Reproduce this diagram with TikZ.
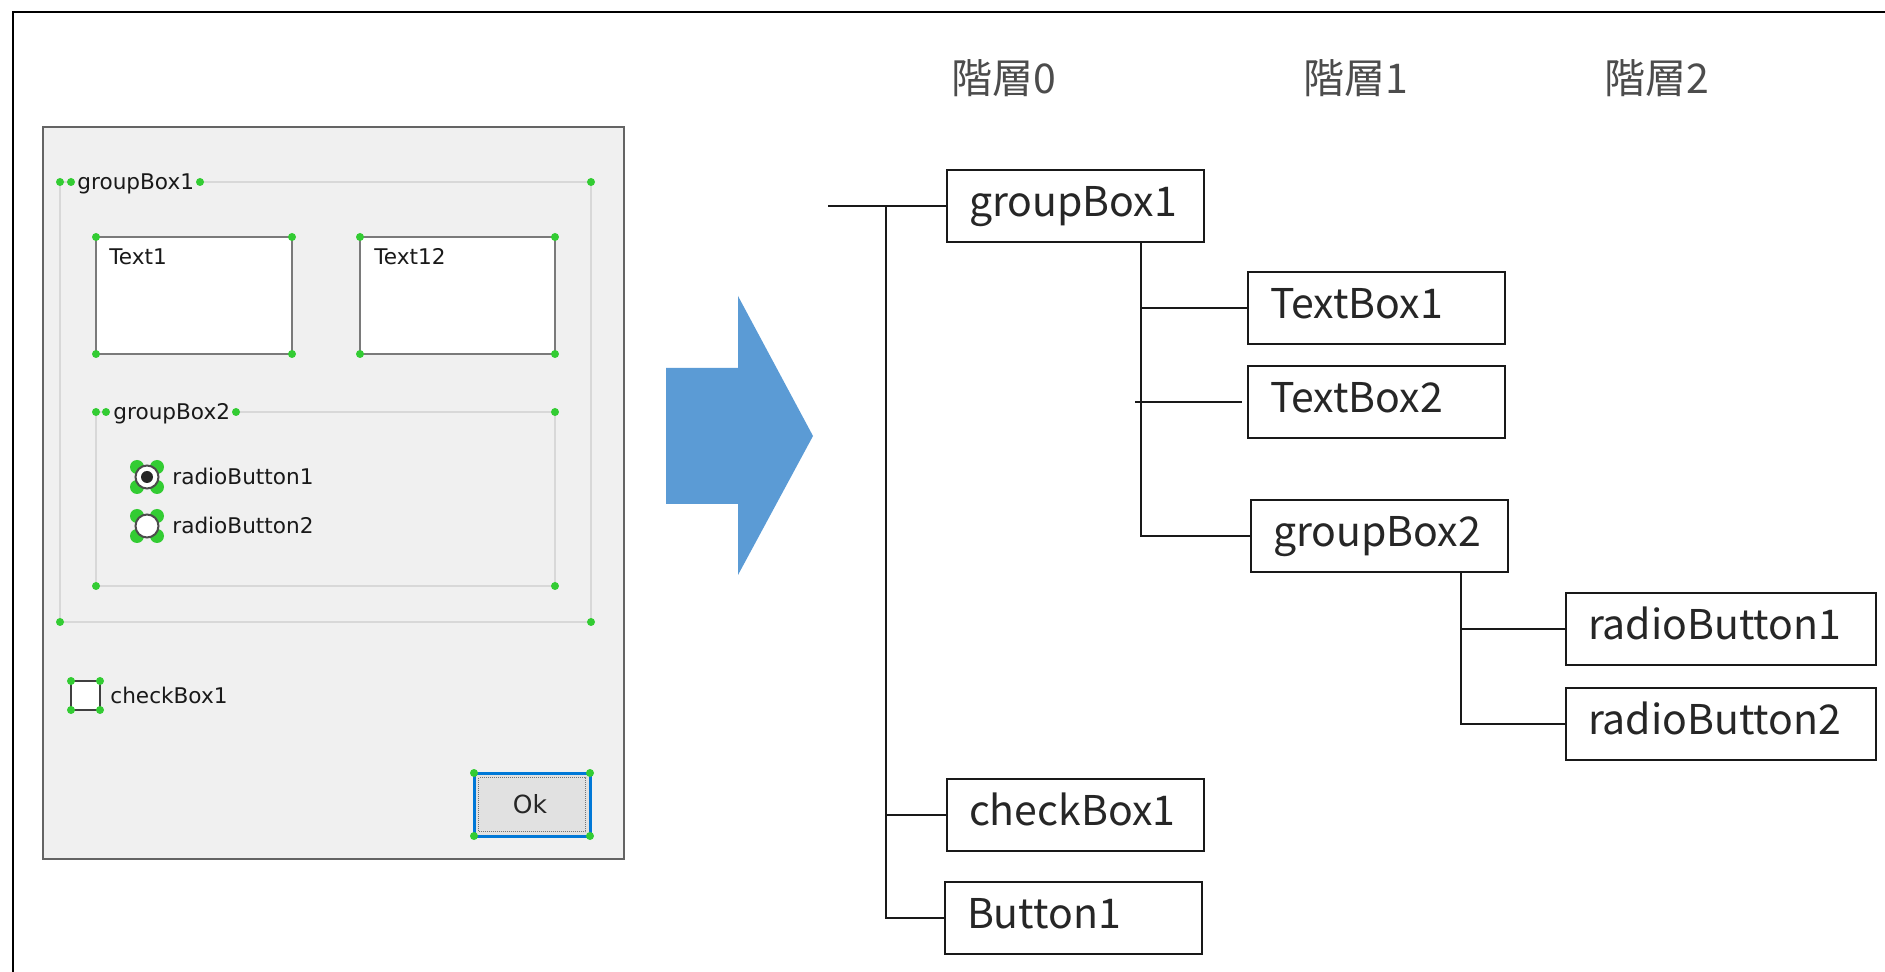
\documentclass[tikz,border=0pt]{standalone}
\usepackage{fontspec}
\setmainfont{Noto Sans CJK JP}
\newfontfamily\formfont{DejaVu Sans}
\usetikzlibrary{calc}

\definecolor{formbg}{HTML}{F0F0F0}
\definecolor{formedge}{HTML}{646464}
\definecolor{grpline}{HTML}{D8D8D8}
\definecolor{handlegreen}{HTML}{33CC33}
\definecolor{okblue}{HTML}{0078D7}
\definecolor{arrowblue}{HTML}{5B9BD5}
\definecolor{btnface}{HTML}{E1E1E1}
\definecolor{fieldedge}{HTML}{7A7A7A}

% left-aligned label of fixed width inside a tree box
\newcommand\boxlabel[2][106.5pt]{\makebox[#1][l]{#2}}

\begin{document}
\begin{tikzpicture}[x=0.5pt,y=-0.5pt,
  treebox/.style={draw=black!90, line width=1pt, anchor=west,
    inner xsep=11pt, inner ysep=0pt, minimum height=36pt, text height=15.4pt,
    text depth=5.1pt, font=\fontsize{20.5}{24}\selectfont, text=black!85},
  tier/.style={font=\fontsize{20.5}{24}\selectfont, text=black!70, inner sep=0pt},
  link/.style={line width=1pt, black!90},
  ctl/.style={font=\formfont\fontsize{10.8}{13}\selectfont, text=black!90, inner sep=0pt, anchor=base west},
  grp/.style={grpline, line width=1pt},
  field/.style={draw=fieldedge, fill=white, line width=1pt},
  handle/.style={fill=handlegreen},
]
\useasboundingbox (0,0) rectangle (1885,972);

% outer frame
\draw[line width=1pt] (13,972) -- (13,12) -- (1885,12);

% ---------- form designer ----------
\draw[fill=formbg, draw=formedge, line width=1pt] (43,127) rectangle (624,859);

% groupBox1
\draw[grp] (200,182) -- (591,182) -- (591,622) -- (60,622) -- (60,182) -- (68,182);
\node[ctl] (lblgb1) at (77,190) {groupBox1};

% text fields
\draw[field] (96,237) rectangle (292,354);
\node[ctl] (lbltx1) at (109,265) {Text1};
\draw[field] (360,237) rectangle (555,354);
\node[ctl] (lbltx2) at (374,265) {Text12};

% groupBox2
\draw[grp] (237,412) -- (555,412) -- (555,586) -- (96,586) -- (96,412) -- (104,412);
\node[ctl] (lblgb2) at (113,420) {groupBox2};

% radio buttons
\foreach \y in {477,526} {
  \foreach \dx/\dy in {-10/-10, 10/-10, -10/10, 10/10}
    \fill[handle] (147+\dx,\y+\dy) circle (7);
  \draw[fill=white, draw=black!70, line width=1pt] (147,\y) circle (11.5);
}
\fill[black!85] (147,477) circle (6);
\node[ctl] (lblrb1) at (172,485) {radioButton1};
\node[ctl] (lblrb2) at (172,534) {radioButton2};

% check box
\draw[fill=white, draw=black!75, line width=1pt] (71,681) rectangle (100,710);
\node[ctl] (lblcb1) at (110,704) {checkBox1};

% OK button
\draw[fill=btnface, draw=okblue, line width=1.5pt] (474,773) rectangle (590,836);
\draw[black!55, line width=0.5pt, dash pattern=on 0.5pt off 0.5pt] (478.5,777.5) rectangle (585.5,831.5);
\node[font=\formfont\fontsize{12.5}{15}\selectfont, text=black!85, inner sep=0pt] (lblok) at (530,804) {Ok};

% selection handles
\foreach \x/\y in {60/182, 71/182, 200/182, 591/182, 60/622, 591/622,
                   96/237, 292/237, 96/354, 292/354,
                   360/237, 555/237, 360/354, 555/354,
                   96/412, 106/412, 236/412, 555/412, 96/586, 555/586,
                   71/681, 100/681, 71/710, 100/710,
                   474/773, 590/773, 474/836, 590/836}
  \fill[handle] (\x,\y) circle (4);

% ---------- block arrow ----------
\fill[arrowblue] (666,368) -- (738,368) -- (738,296) -- (813,436) -- (738,575)
  -- (738,504) -- (666,504) -- cycle;

% ---------- hierarchy ----------
\node[tier] (h0) at (1004,78) {階層0};
\node[tier] (h1) at (1356,78) {階層1};
\node[tier] (h2) at (1657,78) {階層2};

\node[treebox] (gb1) at (946,206) {\boxlabel{groupBox1}};
\node[treebox] (tb1) at (1247,308) {\boxlabel{TextBox1}};
\node[treebox] (tb2) at (1247,402) {\boxlabel{TextBox2}};
\node[treebox] (gb2) at (1250,536) {\boxlabel{groupBox2}};
\node[treebox] (rb1) at (1565,629) {\boxlabel[133pt]{radioButton1}};
\node[treebox] (rb2) at (1565,724) {\boxlabel[133pt]{radioButton2}};
\node[treebox] (cb1) at (946,815) {\boxlabel{checkBox1}};
\node[treebox] (bt1) at (944,918) {\boxlabel{Button1}};

\coordinate (root) at (828,206);
\coordinate (t0) at (886,206);
\coordinate (t1) at ($(gb1.south west)+(195,0)$);
\coordinate (t2) at ($(gb2.south west)+(211,0)$);

\draw[link] (root) -- (gb1.west);
\draw[link] (t0) -- (t0 |- bt1.west) -- (bt1.west);
\draw[link] (t0 |- cb1.west) -- (cb1.west);

\draw[link] (t1) -- (t1 |- gb2.west) -- (gb2.west);
\draw[link] (t1 |- tb1.west) -- (tb1.west);
\draw[link] ([xshift=-3pt]t1 |- tb2.west) -- ([xshift=-2.5pt]tb2.west);

\draw[link] (t2) -- (t2 |- rb2.west) -- (rb2.west);
\draw[link] (t2 |- rb1.west) -- (rb1.west);
\end{tikzpicture}
\end{document}
